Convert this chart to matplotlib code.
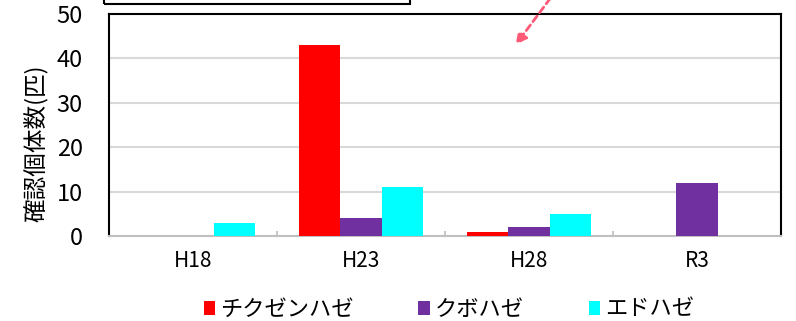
import matplotlib.pyplot as plt
import numpy as np
from matplotlib.patches import Rectangle, FancyArrowPatch

plt.rcParams['font.family'] = ['Noto Sans CJK JP', 'DejaVu Sans']

categories = ['H18', 'H23', 'H28', 'R3']
series_names = ['チクゼンハゼ', 'クボハゼ', 'エドハゼ']
chikuzen = [0, 43, 1, 0]
kubo = [0, 4, 2, 12]
edo = [3, 11, 5, 0]
colors = ['#ff0000', '#7030a0', '#00ffff']
yticks = [0, 10, 20, 30, 40, 50]

fig = plt.figure(figsize=(7.96, 3.21), dpi=100)
ax = fig.add_axes([109/796, 1 - 236/321, (781 - 109)/796, (236 - 14)/321])

x = np.arange(len(categories))
w = 0.245
for i, (vals, name) in enumerate(zip([chikuzen, kubo, edo], series_names)):
    ax.bar(x + (i - 1)*w, vals, w, color=colors[i], label=name, zorder=3)

ax.set_xlim(-0.5, len(categories) - 0.5)
ax.set_ylim(0, 50)
ax.set_yticks(yticks)
ax.set_yticklabels([str(t) for t in yticks], fontsize=17)
ax.set_xticks(x)
ax.set_xticklabels(categories, fontsize=15)
ax.tick_params(axis='y', length=0, pad=19)
ax.tick_params(axis='x', length=0, pad=10)
# small separators between categories
for b in np.arange(0.5, len(categories) - 0.5, 1):
    ax.plot([b, b], [0, 0.8], color='#c8c8c8', lw=1.5, zorder=2, clip_on=False)

for t in yticks[1:-1]:
    ax.axhline(t, color='#d9d9d9', lw=1.5, zorder=1)

for s in ['left', 'top', 'right']:
    ax.spines[s].set_color('black')
    ax.spines[s].set_linewidth(1.5)
ax.spines['bottom'].set_color('#bfbfbf')
ax.spines['bottom'].set_linewidth(1.5)

ax.set_ylabel('確認個体数(匹)', fontsize=17, labelpad=4)
ax.yaxis.set_label_coords(-0.09, 0.42)

fig.legend(*ax.get_legend_handles_labels(), loc='center',
           bbox_to_anchor=(449/796, 1 - 309/321), ncol=3, frameon=False,
           handlelength=0.5, handleheight=0.6, handletextpad=0.25,
           columnspacing=2.9, prop={'size': 16})

# text box above the chart (cut off)
fig.patches.append(Rectangle((104/796, 1 - 4/321), (410 - 104)/796, 0.1,
                             transform=fig.transFigure, fill=False, edgecolor='black', lw=1.5))
# dashed arrow
fig.add_artist(FancyArrowPatch(
    (552/796, 1 + 4/321), (514/796, 1 - 47/321), transform=fig.transFigure,
    arrowstyle='-|>', mutation_scale=16, color='#ff5a78', lw=2, linestyle=(0, (2.5, 1.5))))

fig.savefig('out.png', dpi=100)
